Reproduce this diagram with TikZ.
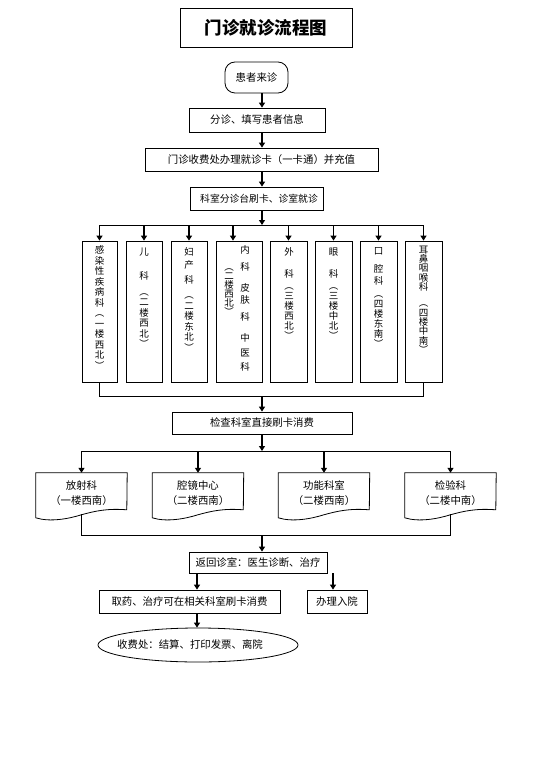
\documentclass[tikz,border=0pt]{standalone}
\usepackage{fontspec}
\setmainfont{Noto Sans CJK SC}
\usetikzlibrary{arrows.meta,shapes.geometric,calc}
\newcommand\vfont{\fontsize{9.5}{10.5}\selectfont}
\newcommand\docoutline[1]{%
  \draw[line] (#1.north west) -- (#1.north east) -- ($(#1.north west)+(91,37)$)
   .. controls ($(#1.north west)+(72,35.5)$) and ($(#1.north west)+(60,38)$) .. ($(#1.north west)+(45.5,42)$)
   .. controls ($(#1.north west)+(33,46)$) and ($(#1.north west)+(14,49.5)$) .. ($(#1.north west)+(0,45)$) -- cycle;}
\begin{document}
\begin{tikzpicture}[x=1pt,y=-1pt,
  line/.style={line width=0.8pt},
  arr/.style={line width=1.4pt,-{Triangle[width=6pt,length=5pt]}},
  box/.style={draw,line width=0.8pt,inner sep=0pt,font=\fontsize{10.4}{12}\selectfont},
  colbox/.style={draw,line width=0.8pt,inner sep=0pt,minimum height=141pt},
  vt/.style={inner sep=0pt,anchor=north,align=center,font=\vfont},
  doc/.style={inner sep=0pt,minimum width=91pt,minimum height=41pt,align=center,font=\fontsize{10.4}{15}\selectfont}]
\useasboundingbox (0,0) rectangle (539,778);
% title and top chain
\node[box,minimum width=172pt,minimum height=39pt,font=\fontsize{17.5}{20}\selectfont\bfseries] (title) at (266,27.5) {门诊就诊流程图};
\node[box,minimum width=63pt,minimum height=31pt,rounded corners=10pt] (start) at (256.5,77.5) {患者来诊};
\node[box,minimum width=136pt,minimum height=24pt] (b2) at (257,120) {分诊、填写患者信息};
\node[box,minimum width=233pt,minimum height=23pt] (b3) at (261.5,159.5) {门诊收费处办理就诊卡（一卡通）并充值\hspace{9pt}};
\node[box,minimum width=133pt,minimum height=23pt,font=\fontsize{9.8}{12}\selectfont] (b4) at (256.5,198.5) {\hspace{5pt}科室分诊台刷卡、诊室就诊};
\coordinate (mx) at (262,0);
\coordinate (x4) at (233,0);
\coordinate (xl) at (197,0);
\coordinate (xr) at (333,0);
\coordinate (bus1) at (262,225);
\coordinate (bus2) at (262,396);
\coordinate (bus3) at (262,451);
\coordinate (bus4) at (262,535);
% column boxes
\node[colbox,minimum width=35pt] (c1) at (99.5,311.5) {};
\node[colbox,minimum width=36pt] (c2) at (144,311.5) {};
\node[colbox,minimum width=36pt] (c3) at (189,311.5) {};
\node[colbox,minimum width=46pt] (c4) at (239,311.5) {};
\node[colbox,minimum width=37pt] (c5) at (288.5,311.5) {};
\node[colbox,minimum width=37pt] (c6) at (333.5,311.5) {};
\node[colbox,minimum width=37pt] (c7) at (378.5,311.5) {};
\node[colbox,minimum width=37pt] (c8) at (423.5,311.5) {};
% column texts
\node[vt] (t1) at (99.5,245.5) {感\\染\\性\\疾\\病\\科\\︵\\一\\楼\\西\\北\\︶};
\node[vt] (t2) at (144,247.5) {儿\\[14pt]科\\[5pt]︵\\二\\楼\\西\\北\\︶};
\node[vt] (t3) at (189,247.5) {妇\\[2.5pt]产\\[4.5pt]科\\[4.5pt]︵\\二\\楼\\东\\北\\︶};
\node[vt] (t4a) at (245,245.5) {内\\[6.5pt]科\\[10.5pt]皮\\[1.5pt]肤\\[6.5pt]科\\[10.5pt]中\\[4.5pt]医\\[3.5pt]科};
\node[vt,font=\fontsize{9.5}{9}\selectfont] (t4b) at (229,268.5) {︵\\二\\楼\\西\\北\\︶};
\node[vt,font=\fontsize{9.5}{10}\selectfont] (t5) at (289,247.5) {外\\[12pt]科\\[2pt]︵\\三\\楼\\西\\北\\︶};
\node[vt,font=\fontsize{9.5}{10}\selectfont] (t6) at (333.5,247.5) {眼\\[12pt]科\\[2pt]︵\\三\\楼\\中\\北\\︶};
\node[vt,font=\fontsize{9.5}{10}\selectfont] (t7) at (378.5,247.5) {口\\[8pt]腔\\[2pt]科\\[3pt]︵\\四\\楼\\东\\南\\︶};
\node[vt,font=\fontsize{9.5}{9.4}\selectfont] (t8) at (423.5,245.5) {耳\\鼻\\咽\\喉\\科\\[6.5pt]︵\\四\\楼\\中\\南\\︶};
% check box and documents
\node[box,minimum width=180pt,minimum height=22pt] (b5) at (262,423) {检查科室直接刷卡消费};
\node[doc] (d1) at (81.5,493.5) {放射科\\（一楼西南）};
\node[doc] (d2) at (198,493.5) {腔镜中心\\（二楼西南）};
\node[doc] (d3) at (324,493.5) {功能科室\\（二楼西南）};
\node[doc] (d4) at (450.5,493.5) {检验科\\（二楼中南）};
\docoutline{d1}
\docoutline{d2}
\docoutline{d3}
\docoutline{d4}
% lower chain
\node[box,minimum width=138pt,minimum height=21pt] (b6) at (258,562.5) {返回诊室：医生诊断、治疗};
\node[box,minimum width=181pt,minimum height=23pt] (b7) at (189.5,601.5) {取药、治疗可在相关科室刷卡消费};
\node[box,minimum width=60pt,minimum height=23pt] (b8) at (337,601.5) {办理入院};
\node[box,ellipse,minimum width=200pt,minimum height=34pt] (end) at (198,645) {};
\node[inner sep=0pt,font=\fontsize{10.4}{12}\selectfont] (endtext) at (190,645) {收费处：结算、打印发票、离院};
% connectors
\draw[arr] (start.south -| mx) -- (b2.north -| mx);
\draw[arr] (b2.south -| mx) -- (b3.north -| mx);
\draw[arr] (b3.south -| mx) -- (b4.north -| mx);
\draw[arr] (b4.south -| mx) -- (bus1);
\draw[line] (c1.north |- bus1) -- (c8.north |- bus1);
\draw[arr] (c1.north |- bus1) -- (c1.north);
\draw[arr] (c2.north |- bus1) -- (c2.north);
\draw[arr] (c3.north |- bus1) -- (c3.north);
\draw[arr] (x4 |- bus1) -- (x4 |- c4.north);
\draw[arr] (c5.north |- bus1) -- (c5.north);
\draw[arr] (c6.north |- bus1) -- (c6.north);
\draw[arr] (c7.north |- bus1) -- (c7.north);
\draw[arr] (c8.north |- bus1) -- (c8.north);
\draw[line] (c1.south) -- (c1.south |- bus2) -- (c8.south |- bus2) -- (c8.south);
\draw[arr] (bus2) -- (b5.north -| mx);
\draw[arr] (b5.south -| mx) -- (bus3);
\draw[line] (d1.north |- bus3) -- (d4.north |- bus3);
\draw[arr] (d1.north |- bus3) -- (d1.north);
\draw[arr] (d2.north |- bus3) -- (d2.north);
\draw[arr] (d3.north |- bus3) -- (d3.north);
\draw[arr] (d4.north |- bus3) -- (d4.north);
\draw[line] (d1.south) -- (d1.south |- bus4) -- (d4.south |- bus4) -- (d4.south);
\draw[arr] (bus4) -- (b6.north -| mx);
\draw[arr] (b6.south -| xl) -- (b7.north -| xl);
\draw[arr] (b6.south -| xr) -- (b8.north -| xr);
\draw[arr] (b7.south -| xl) -- (end.north -| xl);
\end{tikzpicture}
\end{document}
